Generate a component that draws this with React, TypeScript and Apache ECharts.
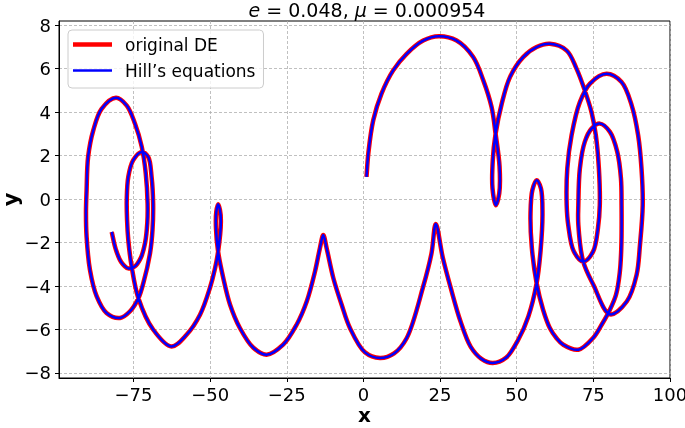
import { useEffect, useRef } from 'react';
import * as echarts from 'echarts';

// Trajectory, in drawing order (x values, y values)
const trajX = [
  1.0, 1.6, 3.2, 5.9, 9.7, 14.1, 19.5, 24.6, 30.4, 35.8, 39.1, 41.8, 43.1, 44.4, 44.3, 43.2, 42.1, 42.2, 43.1, 45.1, 47.8, 52.1, 56.5, 60.8,
  66.3, 69.5, 72.2, 74.4, 75.8, 76.8, 77.1, 76.5, 74.9, 71.7, 68.6, 66.8, 66.3, 66.5, 67.9, 70.6, 73.9, 79.3, 84.2, 87.5, 89.6, 90.7, 91.1, 90.2, 89.1, 85.9, 80.4,
  75.0, 71.7, 70.1, 70.1, 70.6, 72.2, 74.4, 77.1, 80.4, 82.8, 84.0, 84.2, 84.1, 83.6, 82.4, 80.4, 77.7, 74.9, 70.1, 65.2, 63.0, 60.8, 58.6, 56.5,
  54.9, 54.5, 55.1, 56.5, 57.9, 58.4, 57.8, 56.5, 53.8, 50.5, 46.5, 42.2, 38.5, 35.0, 31.6, 28.5, 25.9, 23.6, 22.2, 19.5, 14.1, 10.0, 5.4, 0.5,
  -4.4, -7.1, -9.8, -12.0, -13.1, -14.2, -15.8, -18.5, -21.8, -26.2, -31.6, -35.9, -40.3, -43.5, -45.7, -47.4, -48.1, -48.0, -47.4, -46.8, -46.5,
  -47.4, -48.4, -50.1, -53.3, -57.7, -62.6, -68.6, -73.4, -75.6, -76.7, -77.1, -77.2, -76.7, -75.1, -72.3, -70.2, -69.1, -68.6, -68.8, -69.6,
  -71.8, -73.4, -76.2, -79.4, -83.8, -87.0, -89.2, -90.3, -90.5, -90.3, -89.8, -88.1, -85.4, -80.7, -77.2, -74.5, -72.3, -71.0, -70.4, -70.5,
  -71.2, -72.6, -74.6, -76.7, -79.0, -80.8, -82.1,
];
const trajY = [
  1.02, 2.1, 3.62, 4.85, 5.92, 6.68, 7.29, 7.49, 7.29, 6.53, 5.46, 4.23, 3.01, 1.5, 0.26, -0.28, 0.5, 1.8, 3.0, 4.38, 5.61, 6.53, 6.99, 7.14,
  6.83, 6.0, 5.0, 4.0, 2.94, 1.41, -0.28, -1.34, -2.42, -2.88, -2.4, -1.19, -0.28, 1.41, 2.94, 4.46, 5.31, 5.76, 5.38, 4.31, 2.94, 1.41, -0.28, -2.11, -3.49, -4.71, -5.3,
  -3.94, -2.88, -1.19, -0.28, 1.41, 2.63, 3.24, 3.47, 3.09, 2.17, 0.95, -0.28, -2.3, -3.4, -4.4, -5.09, -5.78, -6.39, -6.93, -6.7, -6.4, -5.93, -5.09, -3.87,
  -2.19, -0.66, 0.41, 0.87, 0.49, -0.66, -2.34, -3.87, -5.4, -6.47, -7.3, -7.54, -7.35, -6.8, -5.6, -4.1, -2.7, -1.15, -2.5, -4.02, -6.4, -7.1, -7.31, -7.05,
  -5.93, -4.86, -3.64, -2.26, -1.65, -2.26, -3.33, -4.71, -5.78, -6.7, -7.16, -6.84, -5.93, -4.86, -3.64, -2.42, -1.34, -0.6, -0.24, -0.5, -1.04,
  -2.42, -3.18, -4.1, -5.32, -6.24, -6.78, -6.0, -4.56, -3.1, -1.88, -0.96, -0.05, 1.02, 1.79, 2.17, 1.94, 1.02, -0.2, -1.42, -2.49,
  -3.87, -4.56, -5.17, -5.47, -5.24, -4.48, -3.26, -1.73, -0.6, 0.41, 1.94, 3.17, 4.15, 4.66, 4.3, 3.46, 2.4, 1.18, -0.2, -1.1,
  -2.0, -2.7, -3.1, -3.19, -2.9, -2.3, -1.51,
];

const xTicks = [-75, -50, -25, 0, 25, 50, 75, 100];
const yTicks = [-8, -6, -4, -2, 0, 2, 4, 6, 8];
const seriesNames = ['original DE', 'Hill\u2019s equations'];
const seriesColors = ['#ff0000', '#0000ff'];
const titleE = '0.048';
const titleMu = '0.000954';

const FONT = 'DejaVu Sans';

// Smooth (centripetal Catmull-Rom) path through pixel points given by the axes.
function smoothPath(p: number[][]): string {
  const n = p.length;
  if (n < 2) return '';
  const f = (v: number) => v.toFixed(2);
  let d = 'M' + f(p[0][0]) + ',' + f(p[0][1]);
  const dist = (a: number[], b: number[]) => Math.sqrt(Math.hypot(b[0] - a[0], b[1] - a[1])) || 1e-6;
  for (let i = 0; i < n - 1; i++) {
    const p0 = p[i === 0 ? 0 : i - 1];
    const p1 = p[i];
    const p2 = p[i + 1];
    const p3 = p[i + 2 < n ? i + 2 : n - 1];
    const d1 = i === 0 ? dist(p1, p2) : dist(p0, p1);
    const d2 = dist(p1, p2);
    const d3 = i + 2 < n ? dist(p2, p3) : dist(p1, p2);
    const q0 = i === 0 ? [2 * p1[0] - p2[0], 2 * p1[1] - p2[1]] : p0;
    const q3 = i + 2 < n ? p3 : [2 * p2[0] - p1[0], 2 * p2[1] - p1[1]];
    const b1: number[] = [];
    const b2: number[] = [];
    for (let k = 0; k < 2; k++) {
      b1[k] = (d1 * d1 * p2[k] - d2 * d2 * q0[k] + (2 * d1 * d1 + 3 * d1 * d2 + d2 * d2) * p1[k]) / (3 * d1 * (d1 + d2));
      b2[k] = (d3 * d3 * p1[k] - d2 * d2 * q3[k] + (2 * d3 * d3 + 3 * d3 * d2 + d2 * d2) * p2[k]) / (3 * d3 * (d3 + d2));
    }
    d += 'C' + f(b1[0]) + ',' + f(b1[1]) + ' ' + f(b2[0]) + ',' + f(b2[1]) + ' ' + f(p2[0]) + ',' + f(p2[1]);
  }
  return d;
}

export default function App() {
  const ref = useRef<HTMLDivElement>(null);

  useEffect(() => {
    if (!ref.current) return;
    const chart = echarts.init(ref.current, null, { renderer: 'svg' });
    const pts = trajX.map((x, i) => [x, trajY[i]]);
    const fmt = (v: number) => (v < 0 ? '\u2212' + Math.abs(v) : String(v));
    const gridLine = { show: true, lineStyle: { type: [3, 2], color: '#b0b0b0', width: 0.8 } };

    chart.setOption({
      animation: false,
      textStyle: { fontFamily: FONT },
      grid: {
        left: 59, right: 15, top: 21, bottom: 50,
        outerBoundsMode: 'none', containLabel: false,
        show: true, borderColor: '#000', borderWidth: 1, backgroundColor: 'transparent',
      },
      xAxis: {
        type: 'value', min: -99.3, max: 100,
        axisLine: { show: true, onZero: false, lineStyle: { color: '#000', width: 1 } },
        axisTick: { show: true, customValues: xTicks, length: 4, lineStyle: { color: '#000' } },
        axisLabel: { customValues: xTicks, formatter: fmt, fontSize: 18, color: '#000', margin: 7, fontFamily: FONT },
        splitLine: gridLine,
        name: 'x', nameLocation: 'middle', nameGap: 30, nameMoveOverlap: false,
        nameTextStyle: { fontSize: 20, lineHeight: 14, fontWeight: 'bold', color: '#000', fontFamily: FONT },
      },
      yAxis: {
        type: 'value', min: -8.23, max: 8.19,
        axisLine: { show: true, onZero: false, lineStyle: { color: '#000', width: 1 } },
        axisTick: { show: true, customValues: yTicks, length: 4, lineStyle: { color: '#000' } },
        axisLabel: { customValues: yTicks, formatter: fmt, fontSize: 18, color: '#000', margin: 8, fontFamily: FONT },
        splitLine: gridLine,
        name: 'y', nameLocation: 'middle', nameGap: 40, nameRotate: 90, nameMoveOverlap: false,
        nameTextStyle: { fontSize: 21, lineHeight: 16, fontWeight: 'bold', color: '#000', fontFamily: FONT },
      },
      legend: {
        orient: 'vertical', left: 68, top: 30,
        padding: [6, 8, 9, 5], itemGap: 9,
        itemWidth: 39, itemHeight: 14,
        borderColor: '#cccccc', borderWidth: 1, borderRadius: 4,
        backgroundColor: 'rgba(255,255,255,0.8)',
        textStyle: { fontSize: 17, color: '#000', fontFamily: FONT, padding: [0, 0, 0, 8] },
        data: [
          { name: seriesNames[0], icon: 'path://M0,0H39V4.5H0Z', itemStyle: { color: seriesColors[0], borderWidth: 0 } },
          { name: seriesNames[1], icon: 'path://M0,0H39V2.5H0Z', itemStyle: { color: seriesColors[1], borderWidth: 0 } },
        ],
      },
      graphic: [
        {
          type: 'text', x: 367, y: 0,
          style: {
            text: '{i|e} = ' + titleE + ', {i|\u03bc} = ' + titleMu,
            font: '19px "DejaVu Sans"',
            fill: '#000',
            textAlign: 'center',
            textVerticalAlign: 'top',
            rich: { i: { fontStyle: 'italic', fontSize: 19, fontFamily: FONT } },
          },
        },
      ],
      series: seriesNames.map((name, k) => ({
        name, type: 'custom', data: pts,
        itemStyle: { color: seriesColors[k] },
        z: 2 + k,
        renderItem: (params: any, api: any) => {
          if (params.dataIndex !== 0) return null;
          const px = pts.map((q) => api.coord(q));
          return {
            type: 'path',
            shape: { pathData: smoothPath(px) },
            style: {
              fill: 'none', stroke: seriesColors[k],
              lineWidth: k === 0 ? 4.5 : 2.5, lineJoin: 'round', lineCap: 'butt',
            },
          };
        },
      })),
    });
    return () => chart.dispose();
  }, []);

  return <div ref={ref} style={{ position: 'fixed', left: 0, top: 0, width: 685, height: 428 }} />;
}
